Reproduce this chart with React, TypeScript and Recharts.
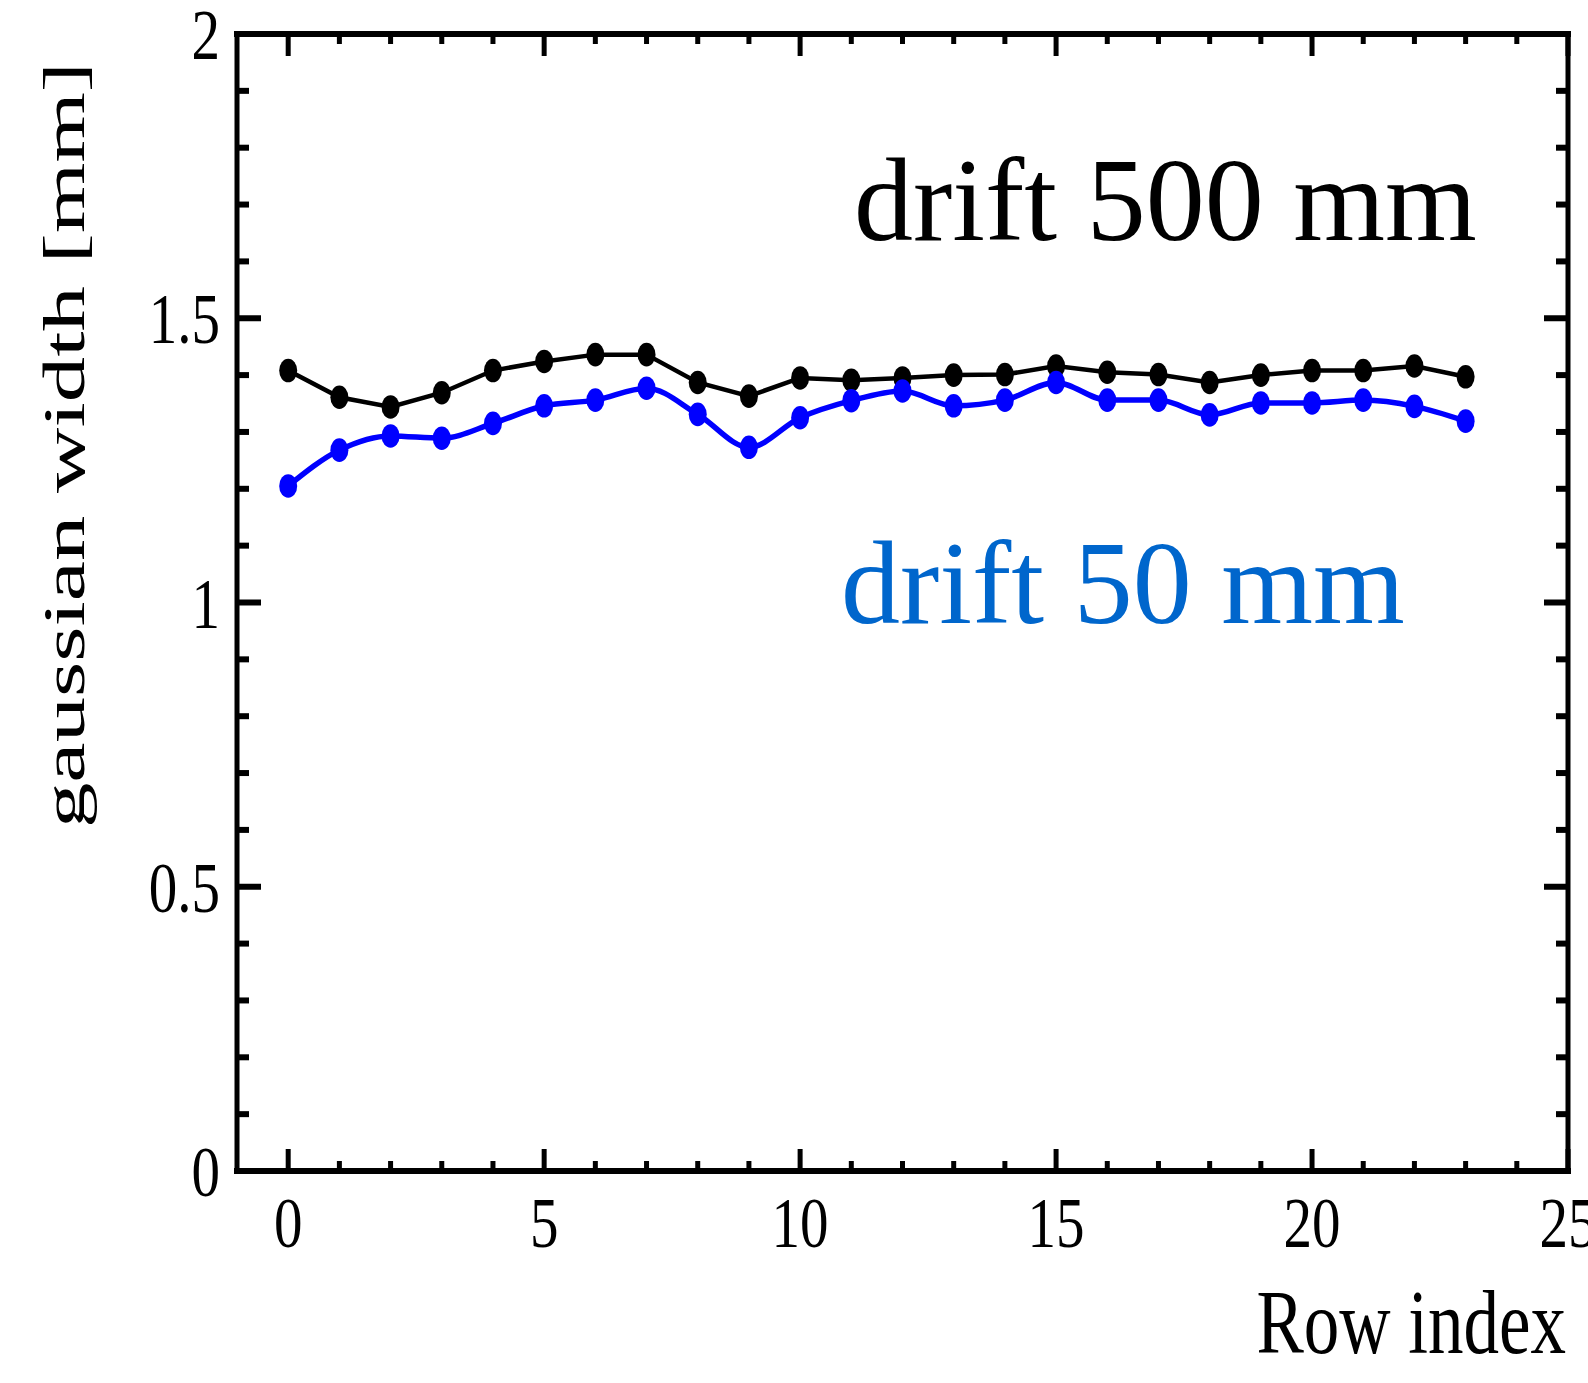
import { LineChart, Line, XAxis, YAxis } from "recharts";

const rowIndex = [0, 1, 2, 3, 4, 5, 6, 7, 8, 9, 10, 11, 12, 13, 14, 15, 16, 17, 18, 19, 20, 21, 22, 23];
const drift500 = [
  1.408, 1.361, 1.344, 1.369, 1.408, 1.424, 1.436, 1.436, 1.387, 1.363, 1.395, 1.391,
  1.395, 1.4, 1.401, 1.416, 1.405, 1.401, 1.387, 1.4, 1.408, 1.408, 1.416, 1.397,
];
const drift50 = [
  1.205, 1.268, 1.293, 1.289, 1.315, 1.346, 1.356, 1.377, 1.331, 1.273, 1.325, 1.355,
  1.372, 1.346, 1.356, 1.387, 1.356, 1.356, 1.33, 1.351, 1.351, 1.356, 1.345, 1.319,
];
const xTicks = [0, 1, 2, 3, 4, 5, 6, 7, 8, 9, 10, 11, 12, 13, 14, 15, 16, 17, 18, 19, 20, 21, 22, 23, 24, 25];
const yTicks = [0, 0.1, 0.2, 0.3, 0.4, 0.5, 0.6, 0.7, 0.8, 0.9, 1, 1.1, 1.2, 1.3, 1.4, 1.5, 1.6, 1.7, 1.8, 1.9, 2];

const data = rowIndex.map((r, i) => ({ row: r, d500: drift500[i], d50: drift50[i] }));

const FONT = "'Liberation Serif', 'Times New Roman', serif";
const SY = 1.25; // labels in the reference are drawn a bit taller than wide

const isMajorX = (v: number) => v % 5 === 0;
const isMajorY = (v: number) => Math.abs(v * 2 - Math.round(v * 2)) < 1e-6;

function BottomTick({ x, y, payload }: any) {
  const v = payload.value;
  const major = isMajorX(v);
  return (
    <g>
      <line x1={x} x2={x} y1={y} y2={y - (major ? 22 : 10)} stroke="#000" strokeWidth={5} />
      {major && (
        <text
          transform={`translate(${x},${y + 76}) scale(1,${SY})`}
          textAnchor="middle"
          fontSize={57}
          fontFamily={FONT}
          fill="#000"
        >
          {v}
        </text>
      )}
    </g>
  );
}

function TopTick({ x, y, payload }: any) {
  const major = isMajorX(payload.value);
  return <line x1={x} x2={x} y1={y} y2={y + (major ? 22 : 10)} stroke="#000" strokeWidth={5} />;
}

function LeftTick({ x, y, payload }: any) {
  const v = payload.value;
  const major = isMajorY(v);
  return (
    <g>
      <line x1={x} x2={x + (major ? 24 : 12)} y1={y} y2={y} stroke="#000" strokeWidth={6} />
      {major && (
        <text
          transform={`translate(${x - 17},${y + 25}) scale(1,${SY})`}
          textAnchor="end"
          fontSize={57}
          fontFamily={FONT}
          fill="#000"
        >
          {String(Math.round(v * 10) / 10)}
        </text>
      )}
    </g>
  );
}

function RightTick({ x, y, payload }: any) {
  const major = isMajorY(payload.value);
  return <line x1={x} x2={x - (major ? 24 : 12)} y1={y} y2={y} stroke="#000" strokeWidth={6} />;
}

const dot = (fill: string) => (p: any) =>
  <ellipse key={p.index} cx={p.cx} cy={p.cy} rx={9} ry={11.8} fill={fill} />;

export default function App() {
  return (
    <div style={{ position: "absolute", left: 0, top: 0, width: 1588, height: 1383, background: "#fff" }}>
      <LineChart width={1588} height={1383} data={data} margin={{ top: 0, right: 0, bottom: 0, left: 0 }}>
        <XAxis
          xAxisId="bottom"
          type="number"
          dataKey="row"
          domain={[-1, 25]}
          ticks={xTicks}
          interval={0}
          allowDataOverflow
          height={212}
          tickSize={0}
          tickMargin={0}
          tickLine={false}
          axisLine={{ stroke: "#000", strokeWidth: 6, strokeLinecap: "square" }}
          tick={<BottomTick />}
        />
        <XAxis
          xAxisId="top"
          orientation="top"
          type="number"
          dataKey="row"
          domain={[-1, 25]}
          ticks={xTicks}
          interval={0}
          allowDataOverflow
          height={34}
          tickSize={0}
          tickMargin={0}
          tickLine={false}
          axisLine={{ stroke: "#000", strokeWidth: 6, strokeLinecap: "square" }}
          tick={<TopTick />}
        />
        <YAxis
          yAxisId="left"
          type="number"
          domain={[0, 2]}
          ticks={yTicks}
          interval={0}
          allowDataOverflow
          width={237}
          tickSize={0}
          tickMargin={0}
          tickLine={false}
          axisLine={{ stroke: "#000", strokeWidth: 5, strokeLinecap: "square" }}
          tick={<LeftTick />}
        />
        <YAxis
          yAxisId="right"
          orientation="right"
          type="number"
          domain={[0, 2]}
          ticks={yTicks}
          interval={0}
          allowDataOverflow
          width={20}
          tickSize={0}
          tickMargin={0}
          tickLine={false}
          axisLine={{ stroke: "#000", strokeWidth: 5, strokeLinecap: "square" }}
          tick={<RightTick />}
        />
        <Line
          xAxisId="bottom"
          yAxisId="left"
          type="linear"
          dataKey="d500"
          stroke="#000"
          strokeWidth={4.5}
          dot={dot("#000")}
          activeDot={false}
          isAnimationActive={false}
        />
        <Line
          xAxisId="bottom"
          yAxisId="left"
          type="monotone"
          dataKey="d50"
          stroke="#0000ff"
          strokeWidth={5.5}
          dot={dot("#0000ff")}
          activeDot={false}
          isAnimationActive={false}
        />
      </LineChart>
      <svg
        width={1588}
        height={1383}
        style={{ position: "absolute", left: 0, top: 0, pointerEvents: "none" }}
        fontFamily={FONT}
      >
        <text transform="translate(854,240) scale(1,1.0)" fontSize={118} fill="#000">
          drift 500 mm
        </text>
        <text transform="translate(841,623) scale(1,1.0)" fontSize={118} fill="#0066cc">
          drift 50 mm
        </text>
        <text transform="translate(1566,1353) scale(1,1.28)" textAnchor="end" fontSize={71} fill="#000">
          Row index
        </text>
        <text
          transform="translate(84,445) rotate(-90)"
          textAnchor="middle"
          fontSize={60}
          textLength={766}
          lengthAdjust="spacingAndGlyphs"
          fill="#000"
        >
          gaussian width [mm]
        </text>
      </svg>
    </div>
  );
}
